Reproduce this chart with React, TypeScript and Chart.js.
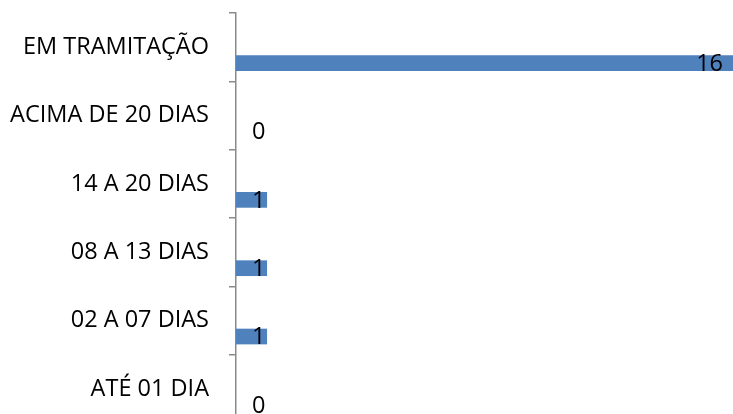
import React, { useEffect, useRef } from "react";
import { Chart, registerables } from "chart.js";

Chart.register(...registerables);

const categories = [
  "EM TRAMITAÇÃO",
  "ACIMA DE 20 DIAS",
  "14 A 20 DIAS",
  "08 A 13 DIAS",
  "02 A 07 DIAS",
  "ATÉ 01 DIA",
];
const values = [16, 0, 1, 1, 1, 0];
const emptySeries = categories.map(() => null);
const xMin = 0;
const xMax = 16;

const FONT = "'Open Sans', sans-serif";

const labelPlugin = {
  id: "valueLabels",
  afterDatasetsDraw(chart: any) {
    const meta = chart.getDatasetMeta(1);
    const xs = chart.scales.x;
    const ctx = chart.ctx;
    ctx.save();
    ctx.font = `23.5px ${FONT}`;
    ctx.fillStyle = "#000";
    ctx.textBaseline = "middle";
    const base = xs.getPixelForValue(0);
    meta.data.forEach((el: any, i: number) => {
      const v = values[i];
      const txt = String(v);
      const w = ctx.measureText(txt).width;
      const end = xs.getPixelForValue(v);
      const left = base + 16;
      if (end - 10 - w > left) {
        ctx.textAlign = "right";
        ctx.fillText(txt, end - 10, el.y + 1);
      } else {
        ctx.textAlign = "left";
        ctx.fillText(txt, left, el.y + 1);
      }
    });
    ctx.restore();
  },
};

export default function App() {
  const ref = useRef<HTMLCanvasElement>(null);
  useEffect(() => {
    if (!ref.current) return;
    const chart = new Chart(ref.current, {
      type: "bar",
      data: {
        labels: categories,
        datasets: [
          { data: emptySeries as any, backgroundColor: "#c0504d" },
          { data: values, backgroundColor: "#4f81bd", borderWidth: 0 },
        ],
      },
      options: {
        indexAxis: "y",
        responsive: false,
        animation: false,
        layout: { padding: { top: 13, right: 0, bottom: 0, left: 0 } },
        plugins: { legend: { display: false }, tooltip: { enabled: false } },
        datasets: {
          bar: { categoryPercentage: 0.938, barPercentage: 0.49 },
        },
        scales: {
          x: { display: false, min: xMin, max: xMax },
          y: {
            afterFit(scale: any) {
              scale.width = 236;
              scale.paddingTop = 0;
              scale.paddingBottom = 0;
            },
            border: { display: true, color: "#8a8a8a", width: 1.5 },
            grid: {
              offset: true,
              drawOnChartArea: false,
              drawTicks: true,
              tickLength: 7,
              color: "#8a8a8a",
              lineWidth: 1.5,
            },
            ticks: {
              padding: 20,
              color: "#000",
              font: { family: FONT, size: 23.5 },
            },
          },
        },
      },
      plugins: [labelPlugin],
    });
    return () => chart.destroy();
  }, []);
  return (
    <div
      style={{
        position: "fixed",
        top: 0,
        left: 0,
        width: 733,
        height: 414,
        overflow: "hidden",
        background: "#fff",
      }}
    >
      <canvas ref={ref} width={733} height={423} style={{ display: "block" }} />
    </div>
  );
}
